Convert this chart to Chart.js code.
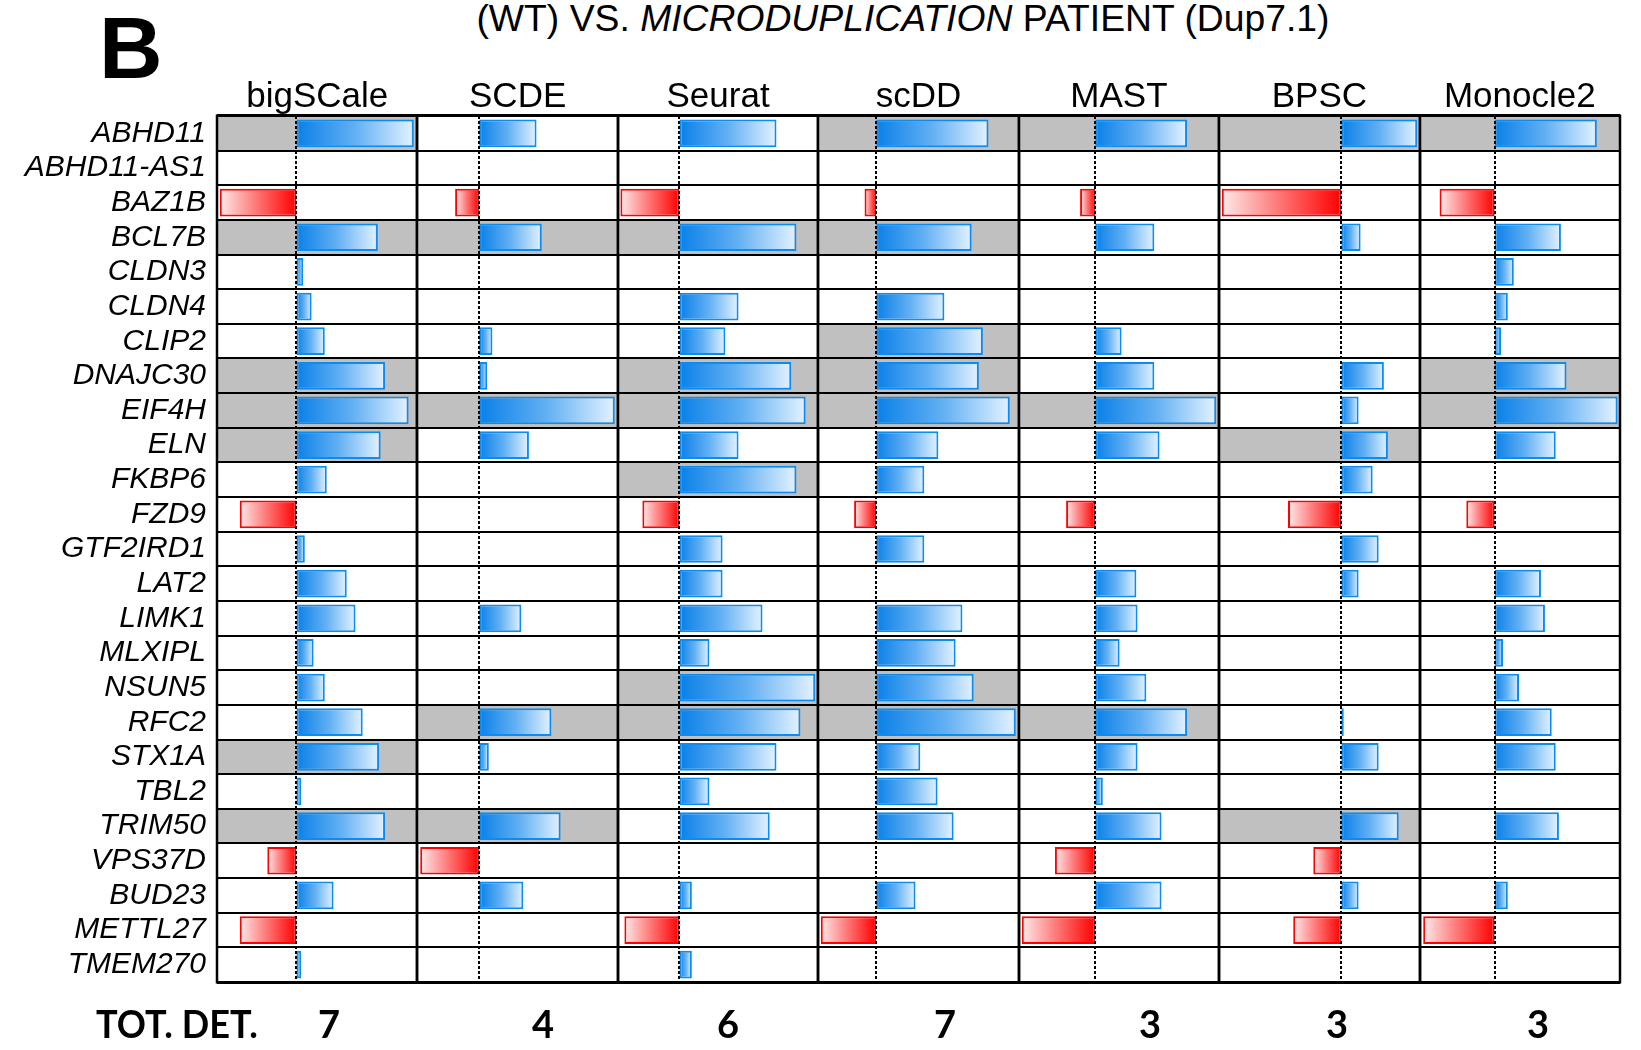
<!DOCTYPE html>
<html>
<head>
<meta charset="utf-8">
<script src="https://cdn.jsdelivr.net/npm/chart.js@4.4.1/dist/chart.umd.min.js"></script>
<style>
  html, body { margin: 0; padding: 0; background: #fff; }
  #fig { position: relative; width: 1641px; height: 1050px; overflow: hidden;
         font-family: "Liberation Sans", Arial, sans-serif; color: #000; }
  .txt { position: absolute; white-space: nowrap; line-height: 1; }
  canvas { position: absolute; }
</style>
</head>
<body>
<div id="fig">
  <div class="txt" style="left:99px; top:4px; font-size:88px; font-weight:bold;">B</div>
  <div class="txt" style="left:303px; width:1200px; text-align:center; top:0px; font-size:37.3px;">(WT) VS. <i>MICRODUPLICATION</i> PATIENT (Dup7.1)</div>
</div>
<script>
// ---- data -------------------------------------------------------------
const genes = ['ABHD11', 'ABHD11-AS1', 'BAZ1B', 'BCL7B', 'CLDN3', 'CLDN4', 'CLIP2',
  'DNAJC30', 'EIF4H', 'ELN', 'FKBP6', 'FZD9', 'GTF2IRD1', 'LAT2', 'LIMK1', 'MLXIPL',
  'NSUN5', 'RFC2', 'STX1A', 'TBL2', 'TRIM50', 'VPS37D', 'BUD23', 'METTL27', 'TMEM270'];

const methods = ['bigSCale', 'SCDE', 'Seurat', 'scDD', 'MAST', 'BPSC', 'Monocle2'];

// fold-change per gene (same order as genes); null = not reported
const bigscaleFC = [2.94, null, -1.92, 2.04, 0.17, 0.38, 0.71, 2.22, 2.81, 2.11, 0.76, -1.42, 0.21,
  1.26, 1.48, 0.43, 0.71, 1.66, 2.07, 0.12, 2.22, -0.73, 0.93, -1.42, 0.12];
const scdeFC = [1.43, null, -0.60, 1.56, null, null, 0.33, 0.20, 3.38, 1.24, null, null, null,
  null, 1.05, null, null, 1.80, 0.24, null, 2.03, -1.47, 1.10, null, null];
const seuratFC = [2.43, null, -1.48, 2.93, null, 1.48, 1.15, 2.80, 3.16, 1.48, 2.93, -0.93, 1.08,
  1.08, 2.08, 0.75, 3.40, 3.03, 2.43, 0.75, 2.26, null, 0.31, -1.38, 0.31];
const scddFC = [2.80, null, -0.29, 2.38, null, 1.70, 2.66, 2.56, 3.33, 1.55, 1.20, -0.55, 1.20,
  null, 2.15, 1.98, 2.43, 3.48, 1.10, 1.53, 1.93, null, 0.98, -1.38, null];
const mastFC = [2.30, null, -0.38, 1.48, null, null, 0.66, 1.48, 3.03, 1.61, null, -0.73, null,
  1.03, 1.06, 0.61, 1.28, 2.30, 1.06, 0.19, 1.66, -1.01, 1.66, -1.84, null];
const bpscFC = [1.89, null, -2.98, 0.48, null, null, null, 1.06, 0.43, 1.16, 0.78, -1.33, 0.93,
  0.43, null, null, null, 0.06, 0.93, null, 1.43, -0.70, 0.43, -1.20, null];
const monocle2FC = [2.56, null, -1.38, 1.66, 0.48, 0.33, 0.16, 1.80, 3.08, 1.53, null, -0.71, null,
  1.16, 1.26, 0.21, 0.61, 1.43, 1.53, null, 1.61, null, 0.33, -1.79, null];

// genes called differentially expressed by each method (shaded rows)
const bigscaleDet = ['ABHD11', 'BCL7B', 'DNAJC30', 'EIF4H', 'ELN', 'STX1A', 'TRIM50'];
const scdeDet = ['BCL7B', 'EIF4H', 'RFC2', 'TRIM50'];
const seuratDet = ['BCL7B', 'DNAJC30', 'EIF4H', 'FKBP6', 'NSUN5', 'RFC2'];
const scddDet = ['ABHD11', 'BCL7B', 'CLIP2', 'DNAJC30', 'EIF4H', 'NSUN5', 'RFC2'];
const mastDet = ['ABHD11', 'EIF4H', 'RFC2'];
const bpscDet = ['ABHD11', 'ELN', 'TRIM50'];
const monocle2Det = ['ABHD11', 'DNAJC30', 'EIF4H'];

// x-axis range of each panel
const axisMin = [-1.99, -1.55, -1.54, -1.45, -1.91, -3.05, -1.87];
const axisMax = [3.02, 3.46, 3.47, 3.56, 3.10, 1.96, 3.14];

const seriesFC = [bigscaleFC, scdeFC, seuratFC, scddFC, mastFC, bpscFC, monocle2FC];
const seriesDet = [bigscaleDet, scdeDet, seuratDet, scddDet, mastDet, bpscDet, monocle2Det];

// ---- layout -----------------------------------------------------------
const GRID_LEFT = 217, GRID_RIGHT = 1620, GRID_TOP = 116, GRID_BOTTOM = 982;
const PANEL_W = (GRID_RIGHT - GRID_LEFT) / methods.length;
const PAD_V = 32, PAD_H = 8;
const countX = [329, 543, 728, 945, 1150, 1337, 1538];

const fig = document.getElementById('fig');
Chart.defaults.font.family = '"Liberation Sans", Arial, sans-serif';

function addText(html, style) {
  const d = document.createElement('div');
  d.className = 'txt';
  d.innerHTML = html;
  Object.assign(d.style, style);
  fig.appendChild(d);
  return d;
}

// gradient fill running from the zero line to the bar tip
function barFill(ctx) {
  const v = ctx.raw;
  const xs = ctx.chart.scales && ctx.chart.scales.x;
  if (typeof v !== 'number' || !xs) return '#3a9cf0';
  const x0 = xs.getPixelForValue(0), x1 = xs.getPixelForValue(v);
  if (!isFinite(x0) || !isFinite(x1)) return v >= 0 ? '#3a9cf0' : '#ff5050';
  const g = ctx.chart.ctx.createLinearGradient(x0, 0, x1 === x0 ? x0 + 1 : x1, 0);
  if (v >= 0) {
    g.addColorStop(0, '#0a80e8');
    g.addColorStop(0.5, '#62b0f3');
    g.addColorStop(1, '#e3f2ff');
  } else {
    g.addColorStop(0, '#ff0000');
    g.addColorStop(0.55, '#ff7d7d');
    g.addColorStop(1, '#ffe9e9');
  }
  return g;
}

// shaded rows, dashed zero line and panel side borders
const panelDecor = {
  id: 'panelDecor',
  beforeDraw(chart, args, opts) {
    const { ctx, chartArea: a, scales: { y } } = chart;
    const step = Math.abs(y.getPixelForValue(1) - y.getPixelForValue(0));
    ctx.save();
    ctx.fillStyle = '#c0c0c0';
    opts.detected.forEach(g => {
      const c = y.getPixelForValue(genes.indexOf(g));
      ctx.fillRect(a.left, c - step / 2, a.right - a.left, step);
    });
    ctx.restore();
  },
  afterDatasetsDraw(chart) {
    const { ctx, chartArea: a, scales: { x } } = chart;
    const x0 = Math.round(x.getPixelForValue(0));
    ctx.save();
    ctx.strokeStyle = '#000';
    ctx.lineWidth = 2;
    ctx.setLineDash([3, 2]);
    ctx.beginPath();
    ctx.moveTo(x0, a.top);
    ctx.lineTo(x0, a.bottom);
    ctx.stroke();
    ctx.setLineDash([]);
    ctx.lineWidth = 2.5;
    ctx.beginPath();
    ctx.moveTo(a.left, a.top - 1.5); ctx.lineTo(a.left, a.bottom + 1.5);
    ctx.moveTo(a.right, a.top - 1.5); ctx.lineTo(a.right, a.bottom + 1.5);
    ctx.stroke();
    ctx.restore();
  }
};

methods.forEach((name, i) => {
  const pl = Math.round(GRID_LEFT + i * PANEL_W);
  const pr = Math.round(GRID_LEFT + (i + 1) * PANEL_W);
  const first = i === 0;
  const left = first ? 0 : pl - PAD_H;
  const width = pr + PAD_H - left;

  const cv = document.createElement('canvas');
  cv.width = width;
  cv.height = GRID_BOTTOM - GRID_TOP + 2 * PAD_V;
  cv.style.left = left + 'px';
  cv.style.top = (GRID_TOP - PAD_V) + 'px';
  fig.appendChild(cv);

  new Chart(cv, {
    type: 'bar',
    data: {
      labels: genes,
      datasets: [{
        data: seriesFC[i],
        backgroundColor: barFill,
        borderColor: ctx => (typeof ctx.raw === 'number' && ctx.raw < 0) ? '#ff0000' : '#0c8cf0',
        borderWidth: 2,
        borderSkipped: false,
        barPercentage: 0.8,
        categoryPercentage: 1.0
      }]
    },
    options: {
      indexAxis: 'y',
      responsive: false,
      animation: false,
      devicePixelRatio: 1,
      layout: { padding: { left: first ? 0 : PAD_H, right: PAD_H, top: PAD_V, bottom: PAD_V } },
      plugins: {
        legend: { display: false },
        tooltip: { enabled: false },
        panelDecor: { detected: seriesDet[i] }
      },
      scales: {
        x: { type: 'linear', min: axisMin[i], max: axisMax[i], display: false },
        y: {
          type: 'category',
          offset: true,
          border: { display: false },
          grid: {
            offset: true,
            drawTicks: false,
            color: '#000',
            lineWidth: c => (c.type !== 'tick' || c.index === 0) ? 3 : 2
          },
          ticks: {
            display: first,
            autoSkip: false,
            padding: 11,
            color: '#000',
            font: { size: 30, style: 'italic', family: '"Liberation Sans", Arial, sans-serif' }
          },
          afterFit: s => { s.width = first ? GRID_LEFT : 0; }
        }
      }
    },
    plugins: [panelDecor]
  });

  // method header and detection count
  const cx = GRID_LEFT + (i + 0.5) * PANEL_W;
  addText(name, { left: (cx - 150) + 'px', width: '300px', textAlign: 'center',
                  top: '77px', fontSize: '35px' });
  addText(String(seriesDet[i].length), { left: (countX[i] - 50) + 'px', width: '100px',
                  textAlign: 'center', top: '1004px', fontSize: '38px', fontWeight: 'bold',
                  fontFamily: 'Lato, "Liberation Sans", sans-serif' });
});

addText('TOT. DET.', { left: '96px', top: '1004px', fontSize: '38px', fontWeight: 'bold',
                       fontFamily: 'Lato, "Liberation Sans", sans-serif',
                       transform: 'scaleX(0.95)', transformOrigin: '0 0' });
</script>
</body>
</html>
